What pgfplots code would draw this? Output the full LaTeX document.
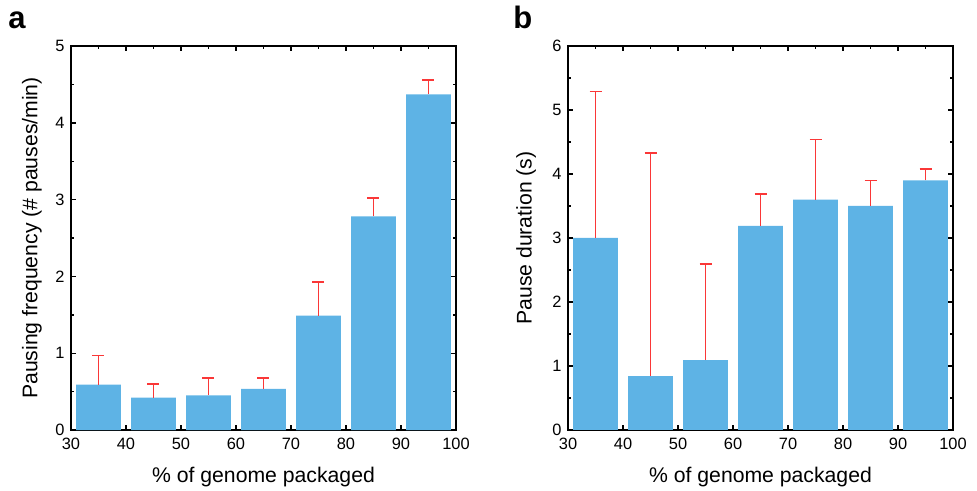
\documentclass[border=0pt]{standalone}
\usepackage{fontspec}
\setmainfont{Liberation Sans}
\usepackage{pgfplots}
\pgfplotsset{compat=1.18}
\usepackage{pgfplotstable}

\definecolor{barblue}{RGB}{94,179,229}
\definecolor{errred}{RGB}{250,55,55}

% % genome packaged (bin centre), mean, upper error
\pgfplotstableread{
x   y     e
35  0.59  0.38
45  0.42  0.18
55  0.45  0.23
65  0.535 0.145
75  1.49  0.44
85  2.78  0.24
95  4.37  0.19
}\freqdata

\pgfplotstableread{
x   y     e
35  3.00  2.29
45  0.84  3.49
55  1.09  1.50
65  3.19  0.50
75  3.60  0.94
85  3.50  0.40
95  3.90  0.18
}\durdata

\pgfplotsset{
  panel/.style={
    scale only axis,
    width=192.5pt, height=192pt,
    xmin=30, xmax=100,
    xtick={30,40,...,100},
    minor x tick num=1,
    ymin=0,
    minor y tick num=1,
    tick align=inside,
    xtick pos=both, ytick pos=both,
    major tick length=2.5pt, minor tick length=1.6pt,
    axis line style={line width=0.9pt},
    every tick/.style={black, line width=0.7pt},
    tick label style={font=\fontsize{8.2}{9}\selectfont, inner sep=0pt},
    xticklabel style={yshift=-4pt},
    yticklabel style={xshift=-3pt},
    /pgf/number format/assume math mode=true,
    label style={font=\fontsize{10.6}{12}\selectfont},
    xlabel={\% of genome packaged},
    xlabel style={at={(axis description cs:0.5,-0.138)}, anchor=base},
    clip=false,
  },
  errplot/.style={
    ybar, bar width=8.1, bar shift=0pt,
    fill=barblue, draw=none,
    error bars/.cd,
      y dir=plus, y explicit,
      error bar style={draw=errred, line width=0.75pt},
      error mark options={draw=errred, line width=0.75pt, mark size=3pt, rotate=90},
  },
}

\begin{document}
\begin{tikzpicture}
\useasboundingbox (-35.5pt,-30.5pt) rectangle (453pt,215pt);

\begin{axis}[panel,
    ymax=5, ytick={0,1,...,5},
    ylabel={Pausing frequency (\# pauses/min)},
    ylabel style={at={(axis description cs:-0.1013,0.5)}, anchor=center},
]
\addplot[errplot] table[x=x, y=y, y error=e] {\freqdata};
\node[anchor=base west, inner sep=0pt, font=\fontsize{15.5}{16}\selectfont\bfseries]
  at (axis description cs:-0.1636,1.0443) {a};
\end{axis}

\begin{axis}[panel, at={(248.5pt,0pt)},
    ymax=6, ytick={0,1,...,6},
    ylabel={Pause duration (s)},
    ylabel style={at={(axis description cs:-0.109,0.5)}, anchor=center},
]
\addplot[errplot] table[x=x, y=y, y error=e] {\durdata};
\node[anchor=base west, inner sep=0pt, font=\fontsize{15.5}{16}\selectfont\bfseries]
  at (axis description cs:-0.1429,1.0443) {b};
\end{axis}
\end{tikzpicture}
\end{document}
